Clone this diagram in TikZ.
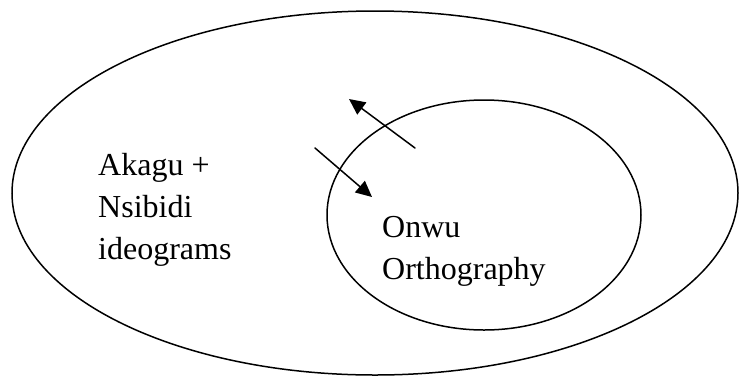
\documentclass[tikz,border=0pt]{standalone}
\usepackage{fontspec}
\setmainfont{Liberation Serif}
\usetikzlibrary{arrows.meta,shapes.geometric}

\tikzset{
  ring/.style={draw,ellipse,line width=1.5pt,inner sep=0pt},
  flow/.style={line width=1.5pt,-{Triangle[length=16pt,width=15pt]}},
  venntext/.style={inner sep=0pt,align=left,anchor=north west,font=\fontsize{32}{42}\selectfont}
}

\begin{document}
\begin{tikzpicture}[x=1pt,y=-1pt,line cap=round]
  \useasboundingbox (0,0) rectangle (739,376);
  \node[ring,minimum width=726pt,minimum height=364pt] (outer) at (375,193) {};
  \node[ring,minimum width=314pt,minimum height=230pt] (inner) at (484,215) {};
  \coordinate (upfrom) at (415,148);
  \coordinate (upto) at (349,99);
  \coordinate (downfrom) at (315,148);
  \coordinate (downto) at (372,197);
  \draw[flow] (upfrom) -- (upto);
  \draw[flow] (downfrom) -- (downto);
  \node[venntext] (akagu) at (98,153) {Akagu +\\Nsibidi\\ideograms};
  \node[venntext] (onwu) at (382,216) {Onwu\\Orthography};
\end{tikzpicture}
\end{document}
